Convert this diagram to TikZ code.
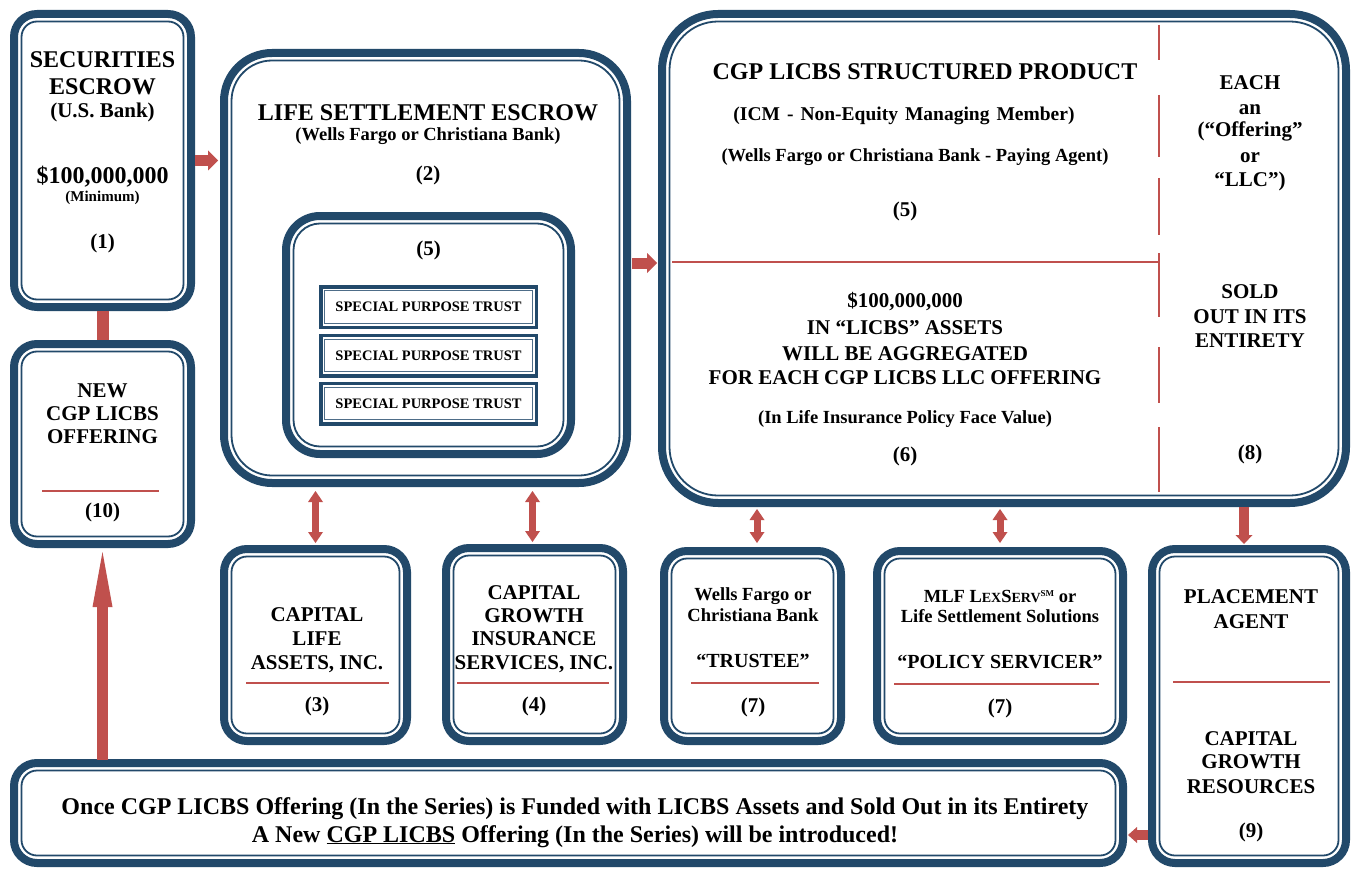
\documentclass[tikz,border=0pt]{standalone}
\usepackage{fontspec}
\setmainfont{Liberation Serif}
\usetikzlibrary{arrows.meta}
\definecolor{nav}{HTML}{22496A}
\definecolor{rd}{HTML}{C0504D}
\newcommand\fs[1]{\fontsize{#1pt}{#1pt}\selectfont\bfseries}
\newcommand\innerln[3]{\draw[nav,line width=1.8pt,rounded corners=#2] ([shift={(#3,-#3)}]#1.north west) rectangle ([shift={(-#3,#3)}]#1.south east);}
\newcommand\wsp{\hspace{7pt}}
\begin{document}
\begin{tikzpicture}[x=1pt,y=-1pt,
 box/.style={draw=nav,line width=8pt,rounded corners=#1,inner sep=0pt,outer sep=0pt,fill=white},
 box/.default=23pt,
 sbox/.style={draw=nav,line width=3.5pt,inner sep=0pt,outer sep=0pt,minimum width=215.5pt,minimum height=40.5pt,font=\fs{14.5},fill=white},
 txt/.style={anchor=base,inner sep=0pt,font=\fs{#1}},
 txt/.default=21,
 rline/.style={draw=rd,line width=2pt},
 blk/.style={draw=rd,line width=11pt,-{Triangle[length=10pt,width=20pt,line width=0pt]}},
 dbl/.style={draw=rd,line width=7pt,{Triangle[length=11pt,width=15pt,line width=0pt]}-{Triangle[length=11pt,width=15pt,line width=0pt]}},
]
\useasboundingbox (0,0) rectangle (1351,869);
\fill[white] (0,0) rectangle (1351,869);

% boxes
\node[box,minimum width=177pt,minimum height=293pt] (b1) at (102.5,160.5) {};
\innerln{b1}{15.5pt}{7.5pt}
\node[box,minimum width=177pt,minimum height=200pt] (b10) at (102.5,444) {};
\innerln{b10}{15.5pt}{7.5pt}
\node[box=48pt,minimum width=403pt,minimum height=430pt] (b2) at (425.5,268) {};
\innerln{b2}{40.5pt}{7.5pt}
\node[box=34pt,minimum width=285pt,minimum height=238pt] (b5) at (428.5,335) {};
\innerln{b5}{26.5pt}{7.5pt}
\node[sbox] (s1) at (428.5,307) {SPECIAL PURPOSE TRUST};
\node[sbox] (s2) at (428.5,355.5) {SPECIAL PURPOSE TRUST};
\node[sbox] (s3) at (428.5,403.5) {SPECIAL PURPOSE TRUST};
\foreach \s in {s1,s2,s3}{\draw[nav!80,line width=1pt] ([shift={(4pt,-4pt)}]\s.north west) rectangle ([shift={(-4pt,4pt)}]\s.south east);}
\node[box=56pt,minimum width=684pt,minimum height=489pt] (big) at (1004,258.5) {};
\innerln{big}{48.5pt}{7.5pt}
\node[box,minimum width=183pt,minimum height=192pt] (b3) at (315.5,645) {};
\innerln{b3}{15.5pt}{7.5pt}
\node[box,minimum width=177pt,minimum height=193pt] (b4) at (534.5,644.5) {};
\innerln{b4}{15.5pt}{7.5pt}
\node[box,minimum width=177pt,minimum height=190pt] (b7a) at (752.5,646) {};
\innerln{b7a}{15.5pt}{7.5pt}
\node[box,minimum width=246pt,minimum height=190pt] (b7b) at (1000,646) {};
\innerln{b7b}{15.5pt}{7.5pt}
\node[box,minimum width=194pt,minimum height=314pt] (b9) at (1249,706) {};
\innerln{b9}{15.5pt}{7.5pt}
\node[box,minimum width=1109pt,minimum height=100pt] (bot) at (568.5,813) {};
\innerln{bot}{15.5pt}{7.5pt}

% connectors
\draw[draw=rd,line width=12pt,shorten <=4pt,shorten >=4pt] (b1.south) -- (b10.north);
\draw[draw=rd,line width=11pt,shorten <=3pt,shorten >=8pt,-{Triangle[length=55pt,width=20pt,line width=0pt]}] (bot.north -| b10.south) -- (b10.south);
\draw[blk,shorten <=4pt,shorten >=6pt] (b1.east) -- (b1.east -| b2.west);
\draw[blk,shorten <=5pt,shorten >=5pt] ([yshift=5pt]b2.east) -- ([yshift=5pt]b2.east -| big.west);
\draw[dbl,shorten <=6pt,shorten >=8pt] (b3.north) -- (b3.north |- b2.south);
\draw[dbl,shorten <=6pt,shorten >=8pt] ([xshift=-2pt]b4.north) -- ([xshift=-2pt]b4.north |- b2.south);
\draw[dbl,shorten <=8pt,shorten >=6pt] ([xshift=4.5pt]b7a.north) -- ([xshift=4.5pt]b7a.north |- big.south);
\draw[dbl,shorten <=8pt,shorten >=6pt] (b7b.north) -- (b7b.north |- big.south);
\draw[draw=rd,line width=10pt,shorten <=4pt,shorten >=5pt,-{Triangle[length=9pt,width=17pt,line width=0pt]}] ([xshift=-5pt]b9.north |- big.south) -- ([xshift=-5pt]b9.north);
\draw[draw=rd,line width=10pt,shorten <=4pt,shorten >=5pt,-{Triangle[length=9pt,width=16pt,line width=0pt]}] ([yshift=-129pt]b9.west) -- ([yshift=-129pt]b9.west -| bot.east);

% dividers in big box
\foreach \a/\b in {25/60,95/157,178/235,253/317,347/403,427/492}{\draw[rline,line width=1.8pt] (1159,\a) -- (1159,\b);}
\draw[rline,line width=1.8pt] (672,262) -- (1159,262);

% red lines in boxes
\draw[rline] (42,491) -- (159,491);
\draw[rline] (246,683) -- (389,683);
\draw[rline] (457,683) -- (609,683);
\draw[rline] (691,683) -- (819,683);
\draw[rline] (894,684) -- (1099,684);
\draw[rline] (1173,682) -- (1330,682);

% texts box 1
\node[txt=24] (b1a) at (102.5,68) {SECURITIES};
\node[txt=24] (b1b) at (102.5,95) {ESCROW};
\node[txt=21] (b1c) at (102.5,118) {(U.S. Bank)};
\node[txt=24] (b1d) at (102.5,183) {\$100,000,000};
\node[txt=15] (b1e) at (102.5,201) {(Minimum)};
\node[txt=21] (b1f) at (102.5,248) {(1)};
% box 10
\node[txt] (b10a) at (102.5,397) {NEW};
\node[txt] (b10b) at (102.5,420) {CGP LICBS};
\node[txt] (b10c) at (102.5,443) {OFFERING};
\node[txt] (b10d) at (102.5,517) {(10)};
% box 2
\node[txt=24] (b2a) at (428,121) {LIFE SETTLEMENT ESCROW};
\node[txt=18.5] (b2b) at (428,141) {(Wells Fargo or Christiana Bank)};
\node[txt] (b2c) at (428,181) {(2)};
\node[txt] (b5a) at (428.5,255) {(5)};
% big box left
\node[txt=24] (g1) at (925,80) {CGP LICBS STRUCTURED PRODUCT};
\node[txt=19.5] (g2) at (904,121) {(ICM\wsp-\wsp Non-Equity\wsp Managing\wsp Member)};
\node[txt=18.5] (g3) at (915,162) {(Wells Fargo or Christiana Bank - Paying Agent)};
\node[txt] (g4) at (905,216) {(5)};
\node[txt] (g5) at (905,307) {\$100,000,000};
\node[txt] (g6) at (905,334) {IN “LICBS” ASSETS};
\node[txt] (g7) at (905,360) {WILL BE AGGREGATED};
\node[txt] (g8) at (905,384) {FOR EACH CGP LICBS LLC OFFERING};
\node[txt=18.5] (g9) at (905,423) {(In Life Insurance Policy Face Value)};
\node[txt] (g10) at (905,461) {(6)};
% big box right
\node[txt] (r1) at (1250,90) {EACH};
\node[txt] (r2) at (1250,115) {an};
\node[txt] (r3) at (1250,137) {(“Offering”};
\node[txt] (r4) at (1250,163) {or};
\node[txt] (r5) at (1250,186) {“LLC”)};
\node[txt] (r6) at (1250,298) {SOLD};
\node[txt] (r7) at (1250,323) {OUT IN ITS};
\node[txt] (r8) at (1250,347) {ENTIRETY};
\node[txt] (r9) at (1250,459) {(8)};
% box 3
\node[txt] (b3a) at (317,621) {CAPITAL};
\node[txt] (b3b) at (317,645) {LIFE};
\node[txt] (b3c) at (317,669) {ASSETS, INC.};
\node[txt] (b3d) at (317,711) {(3)};
% box 4
\node[txt] (b4a) at (534,599) {CAPITAL};
\node[txt] (b4b) at (534,622) {GROWTH};
\node[txt] (b4c) at (534,645) {INSURANCE};
\node[txt] (b4d) at (534,669) {SERVICES, INC.};
\node[txt] (b4e) at (534,711) {(4)};
% box 7a
\node[txt=18.5] (c1) at (753,600) {Wells Fargo or};
\node[txt=18.5] (c2) at (753,621) {Christiana Bank};
\node[txt=20] (c3) at (753,667) {“TRUSTEE”};
\node[txt] (c4) at (753,712) {(7)};
% box 7b
\node[txt=18.5] (d1) at (1000,602) {MLF L{\fs{14}EX}S{\fs{14}ERV}\raisebox{6pt}{\fs{9}SM} or};
\node[txt=18.5] (d2) at (1000,622) {Life Settlement Solutions};
\node[txt=20] (d3) at (1000,668) {“POLICY SERVICER”};
\node[txt] (d4) at (1000,713) {(7)};
% box 9
\node[txt] (e1) at (1251,603) {PLACEMENT};
\node[txt] (e2) at (1251,628) {AGENT};
\node[txt] (e3) at (1251,745) {CAPITAL};
\node[txt] (e4) at (1251,768) {GROWTH};
\node[txt] (e5) at (1251,793) {RESOURCES};
\node[txt] (e6) at (1251,837) {(9)};
% bottom box
\node[txt=24] (f1) at (575,814) {Once CGP LICBS Offering (In the Series) is Funded with LICBS Assets and Sold Out in its Entirety};
\node[txt=24] (f2) at (575,842) {A New \underline{CGP LICBS} Offering (In the Series) will be introduced!};
\end{tikzpicture}
\end{document}
